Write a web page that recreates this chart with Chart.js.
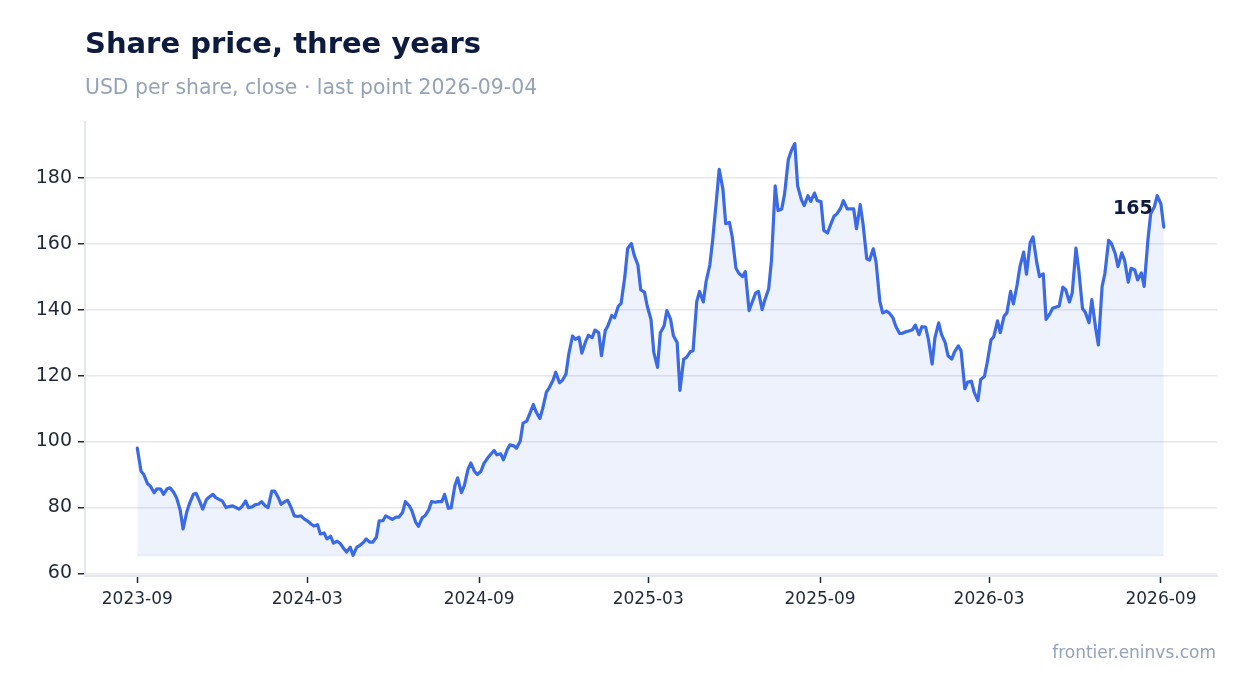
<!DOCTYPE html>
<html>
<head>
<meta charset="utf-8">
<script src="https://cdn.jsdelivr.net/npm/chart.js@4.4.1/dist/chart.umd.min.js"></script>
<style>
  html, body { margin: 0; padding: 0; background: #ffffff; }
  body { width: 1247px; height: 693px; position: relative; overflow: hidden; font-family: "DejaVu Sans", sans-serif; }
  #title { position: absolute; left: 85px; top: 29px; font-size: 29px; line-height: 29px; font-weight: bold; color: #0d1b3e; white-space: nowrap; }
  #subtitle { position: absolute; left: 85px; top: 77px; font-size: 20.4px; line-height: 20px; color: #94a3b8; white-space: nowrap; }
  #source { position: absolute; right: 31px; top: 644px; font-size: 17px; line-height: 17px; color: #94a3b8; white-space: nowrap; }
  #wrap { position: absolute; left: 0; top: 0; width: 1247px; height: 693px; }
</style>
</head>
<body>
<div id="wrap"><canvas id="priceChart"></canvas></div>
<div id="title">Share price, three years</div>
<div id="subtitle">USD per share, close · last point 2026-09-04</div>
<div id="source">frontier.eninvs.com</div>
<script>
const COLORS = {
  line: '#3b6ae6',
  fill: 'rgba(59, 106, 230, 0.085)',
  floor: 'rgba(59, 106, 230, 0.07)',
  grid: '#e3e8f0',
  tick: '#1f2937',
  label: '#0d1b3e'
};

// closes on Fridays and Tuesdays, first Friday 2023-09-01, last Friday 2026-09-04
const firstClose = '2023-09-01';
const weeks = 157;

// pairs: Friday close, following Tuesday close
const closes = [
  98, 91,   90, 87.2,   86.5, 84.5,   85.7, 85.6,   84, 85.7,   86, 84.6,
  83, 79.1,   73.5, 78.7,   81.3, 84,   84.3, 81.7,   79.5, 82.4,   83.2, 84,
  83, 82.4,   82, 80,   80.3, 80.5,   80.1, 79.5,   80.3, 82,   80, 80.2,
  80.8, 81.1,   81.8, 80.5,   80, 85,   85, 83,   81, 81.8,   82.2, 79.8,
  77.5, 77.3,   77.5, 76.5,   76, 75,   74.4, 74.8,   72, 72.3,   70.5, 71.3,
  69.2, 69.8,   69.2, 67.6,   66.5, 68,   65.5, 68,   68.5, 69.4,   70.5, 69.5,
  69.5, 71,   76, 76,   77.5, 76.9,   76.4, 77.1,   77.1, 78.5,   81.8, 80.6,
  79, 75.6,   74.3, 76.9,   77.5, 79.3,   81.8, 81.6,   81.8, 81.8,   84, 79.8,
  79.9, 86.6,   89, 84.5,   86.5, 91.5,   93.5, 91,   90, 91,   93.3, 95,
  96, 97.3,   96, 96.3,   94.5, 97.5,   99, 98.7,   98, 100.2,   105.6, 106.2,
  108.3, 111.2,   109, 107,   110, 115,   116.3, 118.5,   121, 117.8,   118.5, 120.5,
  126.6, 132,   131, 131.6,   126.8, 130.3,   132.2, 131.5,   133.8, 133,   126, 133.6,
  135.2, 138.2,   137.5, 141,   141.9, 150,   158.5, 160,   156.5, 153.5,   146, 145.3,
  141, 137,   127, 122.5,   133, 135,   139.7, 137,   132.1, 130,   115.5, 125,
  125.5, 127.2,   127.5, 142.5,   145.5, 142.3,   148.5, 153.5,   161, 173,   182.5, 176.5,
  166, 166.4,   162, 152.5,   151, 150,   151.5, 139.7,   142, 145,   145.5, 140,
  143, 146.3,   155, 177.5,   170, 170.5,   175, 185.4,   188, 190.3,   177.5, 173.3,
  171.5, 174.5,   172.8, 175.3,   173, 172.7,   164, 163.2,   165.5, 168.3,   169, 170.7,
  173, 170.5,   170.5, 170.5,   164.5, 171.8,   166, 155.4,   155, 158.4,   154.3, 142.5,
  139, 139.5,   139, 137.5,   135, 132.8,   132.8, 133.3,   133.5, 133.9,   135.3, 132.4,
  134.8, 134.7,   131, 123.5,   131.4, 136,   132.5, 130,   126, 125,   127.2, 129,
  127.5, 116,   118, 118.3,   115, 112.4,   118.8, 119.7,   124, 130.8,   131.8, 136.6,
  133, 138,   139, 145.5,   141.7, 147.5,   153, 157.4,   150.7, 160.3,   162, 154.3,
  150, 150.8,   137, 138.7,   140.4, 140.8,   141, 146.8,   146, 142.3,   145, 158.6,
  152, 140.3,   139.2, 136,   143, 134.5,   129.3, 147,   151, 161,   160, 157,
  153, 157.2,   155, 148.3,   152.5, 152,   149, 151.1,   147, 161,   169, 171.2,
  174.5, 172,
  165
];

const tickDates = ['2023-09-01', '2024-03-01', '2024-09-01', '2025-03-01', '2025-09-01', '2026-03-01', '2026-09-01'];
const tickLabels = ['2023-09', '2024-03', '2024-09', '2025-03', '2025-09', '2026-03', '2026-09'];
const priceTicks = [60, 80, 100, 120, 140, 160, 180];

function dayNumber(s) {
  var p = s.split('-');
  return Date.UTC(+p[0], +p[1] - 1, +p[2]) / 86400000;
}

var startDay = dayNumber(firstClose);
var closeDays = [];
for (var k = 0; k <= weeks; k++) {
  closeDays.push(startDay + 7 * k);
  if (k < weeks) closeDays.push(startDay + 7 * k + 4);
}

var points = [];
closes.forEach((v, i) => points.push({x: closeDays[i], y: v}));

var lastDay = closeDays[closeDays.length - 1];
var lastClose = closes[closes.length - 1];
var minClose = Math.min(...closes);
var maxClose = Math.max(...closes);
var floorValue = minClose;
var pad = (maxClose - minClose) * 0.05;

const lastLabel = {
  id: 'lastLabel',
  afterDatasetsDraw(chart) {
    var meta = chart.getDatasetMeta(0);
    var pt = meta.data[meta.data.length - 1];
    var ctx = chart.ctx;
    ctx.save();
    ctx.font = 'bold 19px "DejaVu Sans"';
    ctx.fillStyle = COLORS.label;
    ctx.textAlign = 'right';
    ctx.textBaseline = 'middle';
    ctx.fillText(String(Math.round(lastClose)), pt.x - 11, pt.y - 18);
    ctx.restore();
  }
};

Chart.defaults.font.family = '"DejaVu Sans", sans-serif';
Chart.defaults.color = COLORS.tick;

const priceChart = new Chart(document.getElementById('priceChart'), {
  type: 'line',
  data: {
    datasets: [
      {
        label: 'Close',
        data: points,
        borderColor: COLORS.line,
        borderWidth: 3.2,
        borderJoinStyle: 'round',
        borderCapStyle: 'round',
        pointRadius: 0,
        tension: 0,
        fill: {target: {value: floorValue}, above: COLORS.fill, below: COLORS.fill}
      },
      {
        label: 'Floor',
        data: [{x: startDay, y: floorValue}, {x: lastDay, y: floorValue}],
        borderColor: COLORS.floor,
        borderWidth: 2,
        pointRadius: 0,
        fill: false
      }
    ]
  },
  options: {
    responsive: true,
    maintainAspectRatio: false,
    animation: false,
    layout: {padding: {left: 0, right: 30, top: 122, bottom: 77}},
    plugins: {
      legend: {display: false},
      title: {display: false},
      tooltip: {enabled: false}
    },
    scales: {
      x: {
        type: 'linear',
        min: startDay - 56,
        max: lastDay + 57,
        afterFit: scale => { scale.height = 40; },
        afterBuildTicks: scale => { scale.ticks = tickDates.map(d => ({value: dayNumber(d)})); },
        ticks: {
          font: {size: 17},
          color: COLORS.tick,
          padding: 6,
          maxRotation: 0,
          autoSkip: false,
          callback: (value, index) => tickLabels[index]
        },
        grid: {drawOnChartArea: false, drawTicks: true, tickColor: COLORS.tick, tickLength: 7, tickWidth: 1.5},
        border: {display: true, color: COLORS.grid, width: 2}
      },
      y: {
        type: 'linear',
        min: minClose - pad,
        max: maxClose + pad + 0.3,
        afterFit: scale => { scale.width = 85; },
        afterBuildTicks: scale => { scale.ticks = priceTicks.map(v => ({value: v})); },
        ticks: {
          font: {size: 19},
          color: COLORS.tick,
          padding: 6
        },
        grid: {color: COLORS.grid, lineWidth: 1.5, tickColor: COLORS.tick, tickLength: 7, tickWidth: 1.5},
        border: {display: true, color: COLORS.grid, width: 2}
      }
    }
  },
  plugins: [lastLabel]
});
</script>
</body>
</html>
